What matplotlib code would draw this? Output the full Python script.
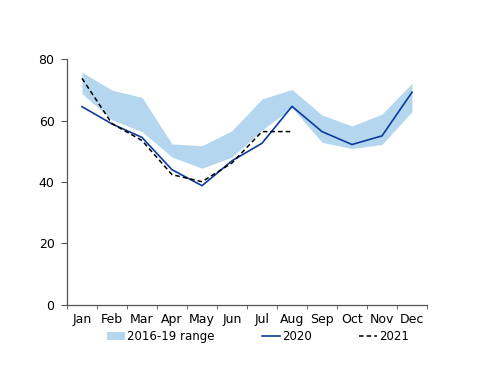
import numpy as np
import matplotlib
matplotlib.use("Agg")
import matplotlib.pyplot as plt

months = ["Jan", "Feb", "Mar", "Apr", "May", "Jun",
          "Jul", "Aug", "Sep", "Oct", "Nov", "Dec"]
range_hi = [75.7, 69.9, 67.5, 52.4, 51.8, 56.7, 67.0, 70.1, 61.8, 58.2, 62.1, 72.1]
range_lo = [68.8, 60.2, 56.4, 48.1, 44.5, 48.1, 56.9, 64.2, 52.9, 50.9, 52.2, 62.9]
y2020 = [64.5, 58.9, 54.5, 44.0, 38.8, 46.9, 52.6, 64.6, 56.4, 52.2, 55.0, 69.2]
y2021 = [73.7, 59.0, 53.5, 42.4, 40.1, 46.2, 56.4, 56.4]

x = np.arange(len(months))

fig = plt.figure(figsize=(5, 3.86), dpi=100)
ax = fig.add_axes([0.134, 0.21, 0.72, 0.637])

ax.fill_between(x, range_lo, range_hi, color="#b4d6ef", lw=0, label="2016-19 range")
ax.plot(x, y2020, color="#0b3c9e", lw=1.2, label="2020")
ax.plot(x[:len(y2021)], y2021, color="black", lw=1.1, ls=(0, (3, 2)), label="2021")

ax.set_xlim(-0.5, 11.5)
ax.set_ylim(0, 80)
ax.set_yticks([0, 20, 40, 60, 80])
ax.set_xticks(x)
ax.set_xticklabels(months)
ax.set_xticks(np.arange(-0.5, 12, 1), minor=True)
ax.tick_params(axis="x", which="major", length=0, pad=6, labelsize=9)
ax.tick_params(axis="x", which="minor", length=3, color="#555555", direction="out")
ax.tick_params(axis="y", length=4, color="#555555", labelsize=9, pad=5)
for s in ["top", "right"]:
    ax.spines[s].set_visible(False)
for s in ["left", "bottom"]:
    ax.spines[s].set_color("#555555")
    ax.spines[s].set_linewidth(0.9)

fig.legend(loc="center", bbox_to_anchor=(0.516, 0.127), ncol=3, frameon=False,
           fontsize=8.5, handlelength=1.5, handletextpad=0.2, columnspacing=4.0)

fig.savefig("out.png", dpi=100)
